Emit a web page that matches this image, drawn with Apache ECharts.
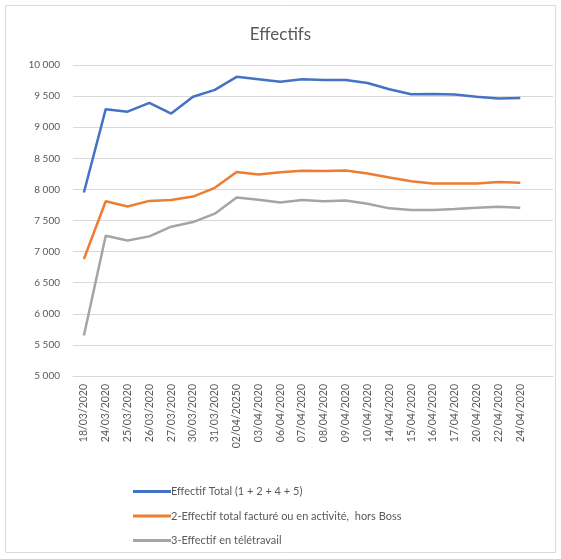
<!DOCTYPE html>
<html>
<head>
<meta charset="utf-8">
<script src="https://cdn.jsdelivr.net/npm/echarts@6/dist/echarts.min.js"></script>
<style>html,body{margin:0;padding:0;background:#fff}#c{width:561px;height:559px}</style>
</head>
<body>
<div id="c"></div>
<script>
const categories = ['18/03/2020','24/03/2020','25/03/2020','26/03/2020','27/03/2020','30/03/2020','31/03/2020','02/04/20250','03/04/2020','06/04/2020','07/04/2020','08/04/2020','09/04/2020','10/04/2020','14/04/2020','15/04/2020','16/04/2020','17/04/2020','20/04/2020','22/04/2020','24/04/2020',''];
const seriesNames = ['Effectif Total (1 + 2 + 4 + 5)','2-Effectif total facturé ou en activité,  hors Boss','3-Effectif en télétravail'];
const total = [7950,9290,9250,9390,9220,9490,9600,9810,9770,9730,9770,9760,9760,9710,9610,9530,9535,9525,9490,9460,9470,null];
const facture = [6880,7810,7725,7815,7830,7885,8025,8280,8240,8275,8300,8295,8305,8255,8190,8130,8095,8095,8095,8120,8105,null];
const teletravail = [5650,7255,7180,7245,7400,7475,7610,7870,7835,7790,7830,7810,7820,7770,7695,7670,7670,7685,7705,7720,7705,null];
const yTicks = {min:5000, max:10000, interval:500};

const font = 'Lato, "Open Sans", sans-serif';
const txt = '#595959';
const chart = echarts.init(document.getElementById('c'), null, {renderer:'canvas'});
chart.setOption({
  animation:false,
  backgroundColor:'#fff',
  graphic:[{type:'rect', shape:{x:5.5,y:5.5,width:550,height:547}, style:{fill:'none', stroke:'#d9d9d9', lineWidth:1}, silent:true}],
  title:{text:'Effectifs', left:'center', top:21, textStyle:{fontFamily:font, fontSize:17, fontWeight:'normal', color:txt}},
  grid:{left:73, right:8, top:65, bottom:183, containLabel:false},
  legend:{orient:'vertical', left:128, top:481, itemGap:13.5, itemWidth:38, itemHeight:3, icon:'rect',
    textStyle:{fontFamily:font, fontSize:11, color:txt, padding:[0,0,0,-5]},
    data:seriesNames},
  xAxis:{type:'category', data:categories, boundaryGap:true,
    axisLine:{show:true, lineStyle:{color:'#d9d9d9', width:1}},
    axisTick:{show:false},
    axisLabel:{rotate:90, interval:0, fontFamily:font, fontSize:10.5, color:txt, margin:8}},
  yAxis:{type:'value', min:yTicks.min, max:yTicks.max, interval:yTicks.interval,
    axisLine:{show:false}, axisTick:{show:false},
    splitLine:{lineStyle:{color:'#d9d9d9', width:1}},
    axisLabel:{fontFamily:font, fontSize:10, color:txt, margin:13,
      formatter:v=>String(v).replace(/\B(?=(\d{3})+(?!\d))/g,' ')}},
  series:[
    {name:seriesNames[0], type:'line', data:total, symbol:'none', lineStyle:{color:'#4472C4', width:2.5}, itemStyle:{color:'#4472C4'}},
    {name:seriesNames[1], type:'line', data:facture, symbol:'none', lineStyle:{color:'#ED7D31', width:2.5}, itemStyle:{color:'#ED7D31'}},
    {name:seriesNames[2], type:'line', data:teletravail, symbol:'none', lineStyle:{color:'#A5A5A5', width:2.5}, itemStyle:{color:'#A5A5A5'}}
  ]
});
</script>
</body>
</html>
